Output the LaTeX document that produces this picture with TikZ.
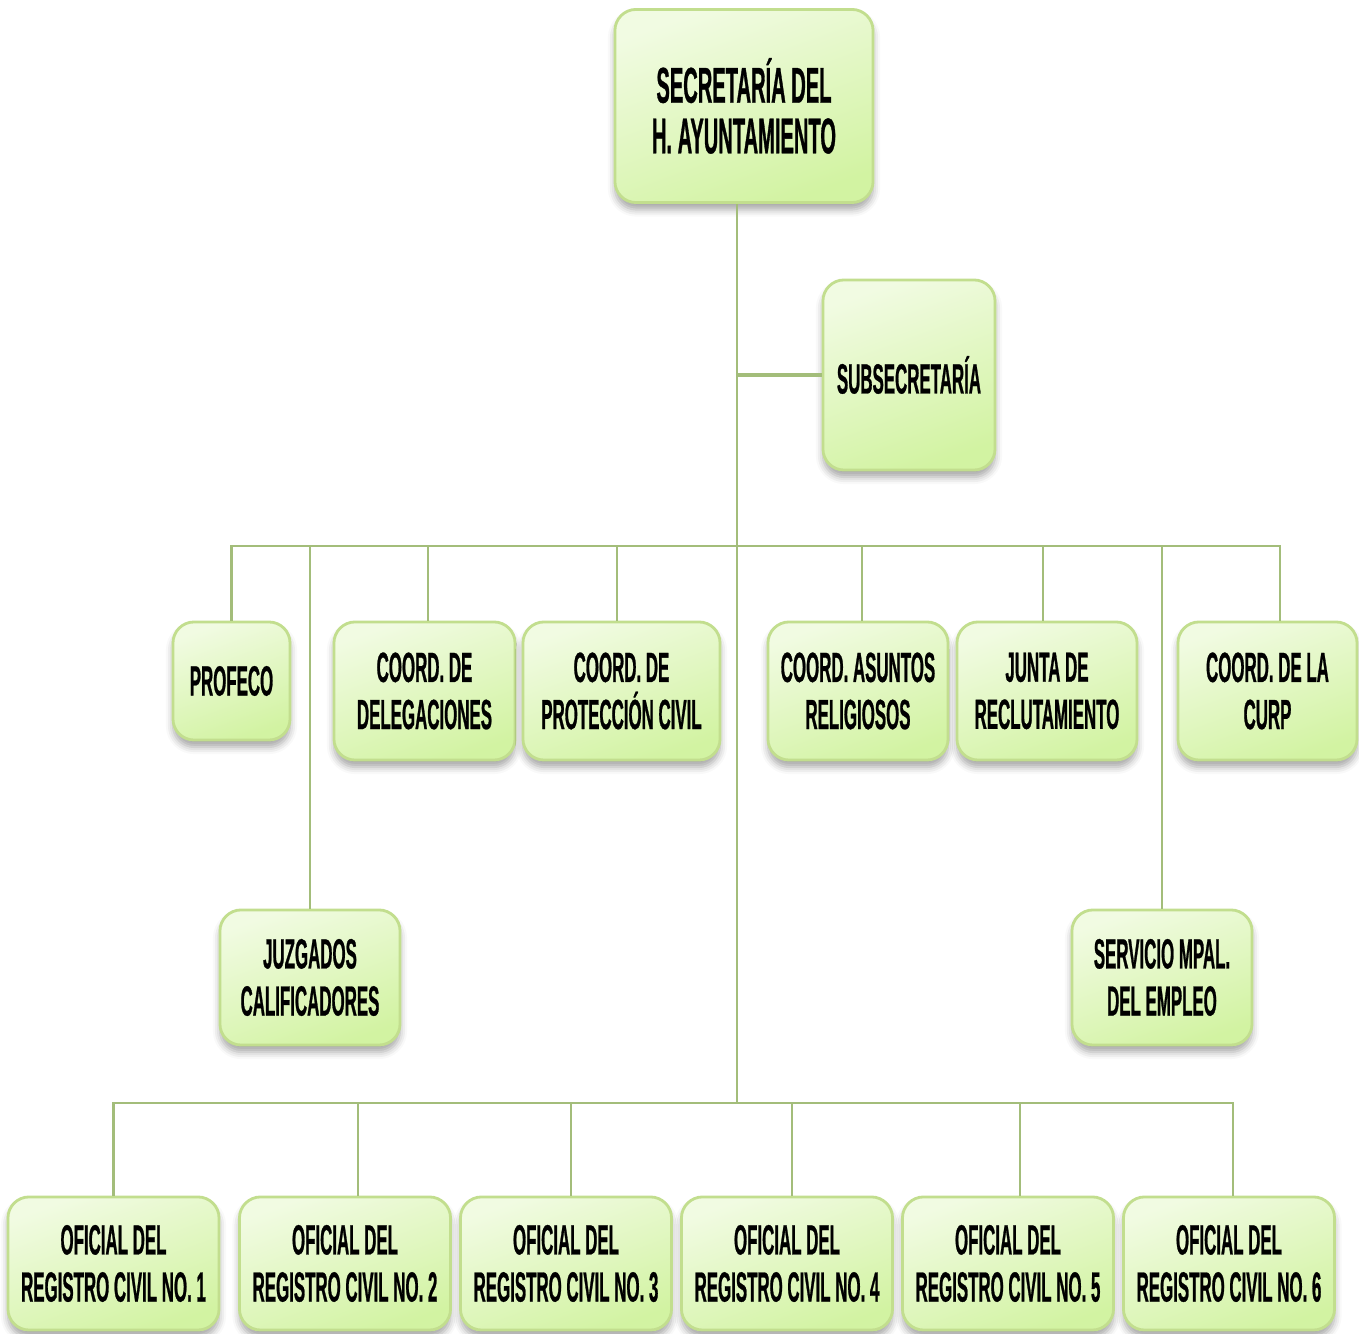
\documentclass[tikz,border=0pt]{standalone}
\usepackage{fontspec}
\usepackage{tikz}
\usetikzlibrary{shadows.blur}
\newfontfamily\cajafont[FakeStretch=0.4,FakeBold=0.6]{Liberation Sans}
\definecolor{lineaverde}{HTML}{A3BD7A}
\definecolor{bordeverde}{HTML}{C2DE8E}
\definecolor{verdeclaro}{HTML}{F1FBE2}
\definecolor{verdefuerte}{HTML}{D2F3A2}
\tikzset{
  caja/.style={rectangle, rounded corners=6pt, draw=bordeverde, line width=0.8pt,
    top color=verdeclaro, bottom color=verdefuerte, shading angle=20,
    blur shadow={shadow xshift=0pt, shadow yshift=-2pt, shadow blur radius=2pt, shadow opacity=35},
    align=center, inner sep=0pt,
    font=\cajafont\bfseries\fontsize{12}{13.4}\selectfont},
  linea/.style={draw=lineaverde, line width=0.75pt}
}

\begin{document}
\begin{tikzpicture}[x=0.01cm,y=-0.01cm]
\useasboundingbox (0,0) rectangle (1359,1334);
\node[caja, minimum width=2.58cm, minimum height=1.93cm, font=\cajafont\bfseries\fontsize{14.3}{14.4}\selectfont] (sec) at (744,106) {SECRETARÍA DEL\\H. AYUNTAMIENTO};
\node[caja, minimum width=1.72cm, minimum height=1.9cm] (sub) at (909,375) {SUBSECRETARÍA};
\node[caja, minimum width=1.17cm, minimum height=1.18cm] (profeco) at (231.5,681) {PROFECO};
\node[caja, minimum width=1.81cm, minimum height=1.38cm] (deleg) at (424.5,691) {COORD. DE\\DELEGACIONES};
\node[caja, minimum width=1.97cm, minimum height=1.38cm] (proteccion) at (621.5,691) {COORD. DE\\PROTECCIÓN CIVIL};
\node[caja, minimum width=1.8cm, minimum height=1.38cm] (religiosos) at (858,691) {COORD. ASUNTOS\\RELIGIOSOS};
\node[caja, minimum width=1.8cm, minimum height=1.38cm] (junta) at (1047,691) {JUNTA DE\\RECLUTAMIENTO};
\node[caja, minimum width=1.79cm, minimum height=1.38cm] (curp) at (1267.5,691) {COORD. DE LA\\CURP};
\node[caja, minimum width=1.8cm, minimum height=1.35cm] (juzgados) at (310,977.5) {JUZGADOS\\CALIFICADORES};
\node[caja, minimum width=1.8cm, minimum height=1.35cm] (empleo) at (1162,977.5) {SERVICIO MPAL.\\DEL EMPLEO};
\node[caja, minimum width=2.11cm, minimum height=1.33cm] (reg1) at (113.5,1263.5) {OFICIAL DEL\\REGISTRO CIVIL NO. 1};
\node[caja, minimum width=2.11cm, minimum height=1.33cm] (reg2) at (345,1263.5) {OFICIAL DEL\\REGISTRO CIVIL NO. 2};
\node[caja, minimum width=2.11cm, minimum height=1.33cm] (reg3) at (566,1263.5) {OFICIAL DEL\\REGISTRO CIVIL NO. 3};
\node[caja, minimum width=2.11cm, minimum height=1.33cm] (reg4) at (787,1263.5) {OFICIAL DEL\\REGISTRO CIVIL NO. 4};
\node[caja, minimum width=2.11cm, minimum height=1.33cm] (reg5) at (1008,1263.5) {OFICIAL DEL\\REGISTRO CIVIL NO. 5};
\node[caja, minimum width=2.11cm, minimum height=1.33cm] (reg6) at (1229,1263.5) {OFICIAL DEL\\REGISTRO CIVIL NO. 6};
% tronco y buses
\coordinate (troncoA) at (737,546);
\coordinate (troncoB) at (737,1103);
\draw[linea] (sec.south -| troncoA) -- (troncoB);
\draw[linea, line width=1.1pt] (sub.west) -- (sub.west -| troncoA);
% primer nivel
\draw[linea] (profeco.north) -- (profeco.north |- troncoA) -- ([xshift=0.125cm]curp.north |- troncoA) -- ([xshift=0.125cm]curp.north);
\draw[linea] ([xshift=0.035cm]deleg.north) -- ([xshift=0.035cm]deleg.north |- troncoA);
\draw[linea] ([xshift=-0.045cm]proteccion.north) -- ([xshift=-0.045cm]proteccion.north |- troncoA);
\draw[linea] ([xshift=0.04cm]religiosos.north) -- ([xshift=0.04cm]religiosos.north |- troncoA);
\draw[linea] ([xshift=-0.04cm]junta.north) -- ([xshift=-0.04cm]junta.north |- troncoA);
\draw[linea] (juzgados.north) -- (juzgados.north |- troncoA);
\draw[linea] (empleo.north) -- (empleo.north |- troncoA);
% registros civiles
\draw[linea] (reg1.north) -- (reg1.north |- troncoB) -- ([xshift=0.04cm]reg6.north |- troncoB) -- ([xshift=0.04cm]reg6.north);
\draw[linea] ([xshift=0.13cm]reg2.north) -- ([xshift=0.13cm]reg2.north |- troncoB);
\draw[linea] ([xshift=0.05cm]reg3.north) -- ([xshift=0.05cm]reg3.north |- troncoB);
\draw[linea] ([xshift=0.05cm]reg4.north) -- ([xshift=0.05cm]reg4.north |- troncoB);
\draw[linea] ([xshift=0.12cm]reg5.north) -- ([xshift=0.12cm]reg5.north |- troncoB);
\end{tikzpicture}
\end{document}
